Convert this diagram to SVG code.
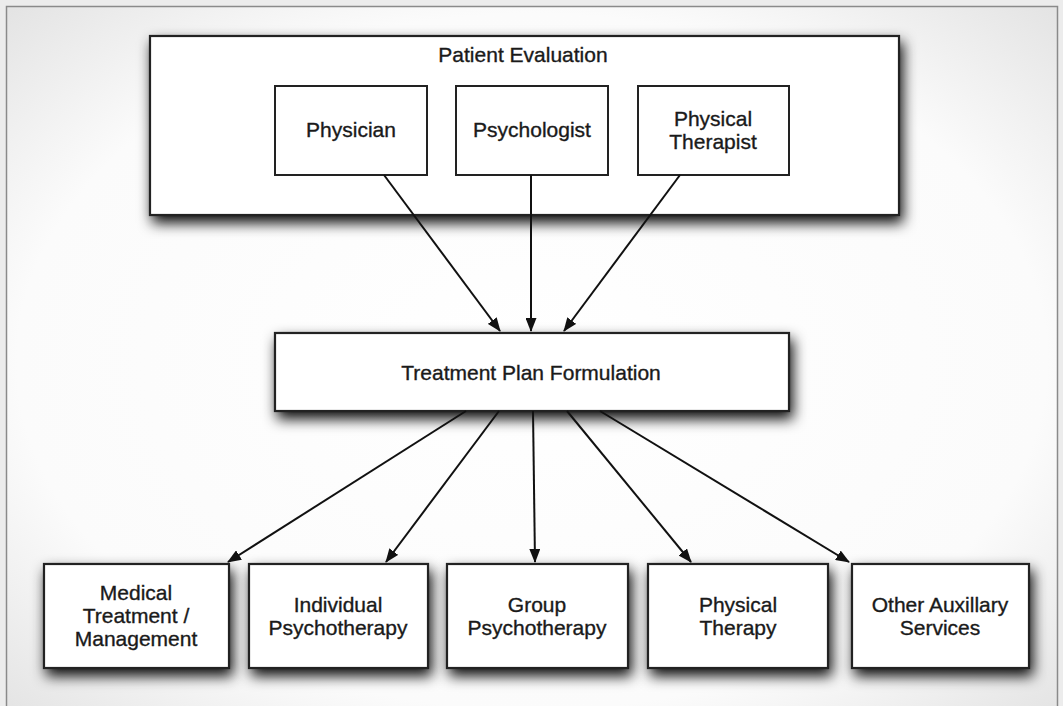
<svg xmlns="http://www.w3.org/2000/svg" width="1063" height="706" viewBox="0 0 1063 706">
  <defs>
    <radialGradient id="panelFill" cx="50%" cy="50%" r="70%">
      <stop offset="0" stop-color="#ffffff"/>
      <stop offset="0.7" stop-color="#fbfbfb"/>
      <stop offset="1" stop-color="#e4e4e4"/>
    </radialGradient>
    <filter id="shadow" x="-20%" y="-30%" width="140%" height="170%">
      <feDropShadow dx="3" dy="7" stdDeviation="7" flood-color="#000" flood-opacity="0.95"/>
    </filter>
    <marker id="arrow" viewBox="0 0 14 11" refX="13" refY="5.5" markerWidth="14" markerHeight="11" markerUnits="userSpaceOnUse" orient="auto">
      <path d="M0,0 L14,5.5 L0,11 Z" fill="#111"/>
    </marker>
    <style>
      .box { fill: #fff; stroke: #222; stroke-width: 2.2; }
      .inner { fill: #fff; stroke: #222; stroke-width: 2; }
      .label { font-family: "Liberation Sans", Arial, sans-serif; font-size: 21px; fill: #1a1a1a; stroke: #1a1a1a; stroke-width: 0.35; text-anchor: middle; }
      .edge { stroke: #111; stroke-width: 2; fill: none; marker-end: url(#arrow); }
    </style>
  </defs>

  <!-- page background and frame -->
  <rect x="0" y="0" width="1063" height="706" fill="#ececec"/>
  <rect x="6.5" y="6.5" width="1051" height="710" fill="url(#panelFill)" stroke="#8a8a8a" stroke-width="1.5"/>

  <!-- Patient evaluation group -->
  <g id="patient-evaluation">
    <rect class="box" x="150" y="36" width="749" height="179" filter="url(#shadow)"/>
    <text class="label" x="523" y="62">Patient Evaluation</text>
  </g>
  <g id="physician">
    <rect class="inner" x="275" y="86" width="152" height="89"/>
    <text class="label" x="351" y="137">Physician</text>
  </g>
  <g id="psychologist">
    <rect class="inner" x="456" y="86" width="152" height="89"/>
    <text class="label" x="532" y="137">Psychologist</text>
  </g>
  <g id="physical-therapist">
    <rect class="inner" x="638" y="86" width="151" height="89"/>
    <text class="label" x="713" y="126">Physical</text>
    <text class="label" x="713" y="149">Therapist</text>
  </g>

  <!-- Treatment plan -->
  <g id="treatment-plan">
    <rect class="box" x="275" y="333" width="514" height="78" filter="url(#shadow)"/>
    <text class="label" x="531" y="380">Treatment Plan Formulation</text>
  </g>

  <!-- Services -->
  <g id="medical-treatment">
    <rect class="box" x="44" y="564" width="185" height="104" filter="url(#shadow)"/>
    <text class="label" x="136" y="600">Medical</text>
    <text class="label" x="136" y="623">Treatment /</text>
    <text class="label" x="136" y="646">Management</text>
  </g>
  <g id="individual-psychotherapy">
    <rect class="box" x="249" y="564" width="179" height="104" filter="url(#shadow)"/>
    <text class="label" x="338" y="612">Individual</text>
    <text class="label" x="338" y="635">Psychotherapy</text>
  </g>
  <g id="group-psychotherapy">
    <rect class="box" x="447" y="564" width="181" height="104" filter="url(#shadow)"/>
    <text class="label" x="537" y="612">Group</text>
    <text class="label" x="537" y="635">Psychotherapy</text>
  </g>
  <g id="physical-therapy">
    <rect class="box" x="648" y="564" width="180" height="104" filter="url(#shadow)"/>
    <text class="label" x="738" y="612">Physical</text>
    <text class="label" x="738" y="635">Therapy</text>
  </g>
  <g id="other-services">
    <rect class="box" x="852" y="564" width="177" height="104" filter="url(#shadow)"/>
    <text class="label" x="940" y="612">Other Auxillary</text>
    <text class="label" x="940" y="635">Services</text>
  </g>

  <!-- connectors -->
  <g id="connectors">
    <line class="edge" x1="384" y1="175" x2="500" y2="331"/>
    <line class="edge" x1="531" y1="175" x2="531" y2="331"/>
    <line class="edge" x1="680" y1="175" x2="564" y2="331"/>
    <line class="edge" x1="466" y1="411" x2="228" y2="562"/>
    <line class="edge" x1="499" y1="411" x2="386" y2="562"/>
    <line class="edge" x1="533" y1="411" x2="535" y2="562"/>
    <line class="edge" x1="567" y1="411" x2="691" y2="562"/>
    <line class="edge" x1="600" y1="411" x2="849" y2="562"/>
  </g>
</svg>
